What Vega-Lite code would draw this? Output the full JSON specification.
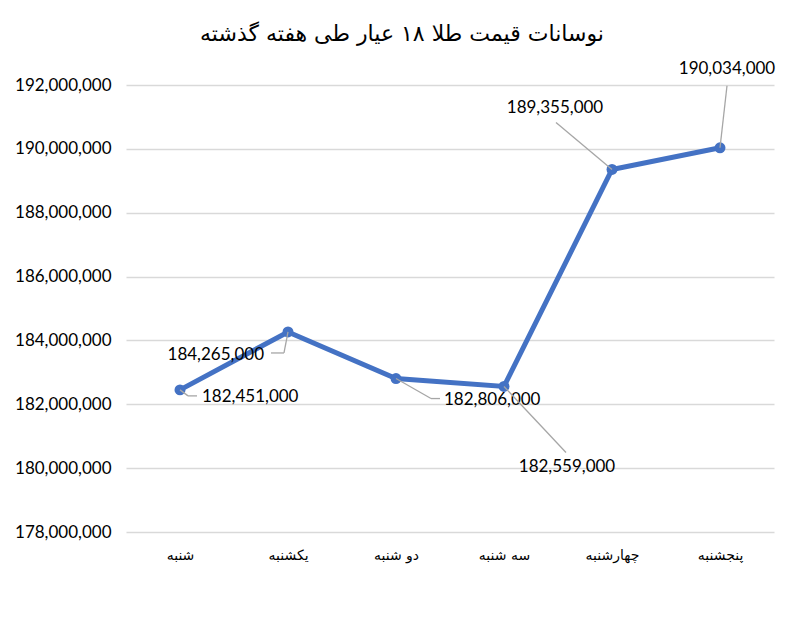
{
  "$schema": "https://vega.github.io/schema/vega-lite/v6.json",
  "autosize": "none",
  "width": 648,
  "height": 447,
  "padding": {"left": 126, "top": 85, "right": 26, "bottom": 104},
  "background": "white",
  "title": {
    "text": "نوسانات قیمت طلا ۱۸ عیار طی هفته گذشته",
    "font": "DejaVu Sans",
    "fontSize": 22,
    "fontWeight": "normal",
    "color": "#000000",
    "anchor": "middle",
    "dx": -48,
    "offset": 14
  },
  "data": {
    "values": [
      {"day": "شنبه", "price": 182451000, "label": "182,451,000"},
      {"day": "یکشنبه", "price": 184265000, "label": "184,265,000"},
      {"day": "دو شنبه", "price": 182806000, "label": "182,806,000"},
      {"day": "سه شنبه", "price": 182559000, "label": "182,559,000"},
      {"day": "چهارشنبه", "price": 189355000, "label": "189,355,000"},
      {"day": "پنجشنبه", "price": 190034000, "label": "190,034,000"}
    ]
  },
  "encoding": {
    "x": {
      "field": "day",
      "type": "nominal",
      "sort": ["شنبه", "یکشنبه", "دو شنبه", "سه شنبه", "چهارشنبه", "پنجشنبه"],
      "scale": {"type": "point", "padding": 0.5},
      "axis": {
        "title": null,
        "labelAngle": 0,
        "ticks": false,
        "domain": false,
        "grid": false,
        "labelFont": "DejaVu Sans",
        "labelFontSize": 14,
        "labelColor": "#000000",
        "labelPadding": 16
      }
    },
    "y": {
      "field": "price",
      "type": "quantitative",
      "scale": {"domain": [178000000, 192000000], "nice": false, "zero": false},
      "axis": {
        "title": null,
        "values": [178000000, 180000000, 182000000, 184000000, 186000000, 188000000, 190000000, 192000000],
        "format": ",d",
        "ticks": false,
        "domain": false,
        "gridColor": "#d9d9d9",
        "gridWidth": 1.5,
        "labelFont": "Lato",
        "labelFontSize": 17,
        "labelColor": "#000000",
        "labelPadding": 15
      }
    }
  },
  "layer": [
    {"mark": {"type": "line", "color": "#4472C4", "strokeWidth": 5}},
    {"mark": {"type": "point", "filled": true, "color": "#4472C4", "size": 120, "opacity": 1}},
    {
      "transform": [{"filter": "datum.day == 'شنبه'"}],
      "layer": [
        {"mark": {"type": "rule", "color": "#a6a6a6", "strokeWidth": 1.3, "x2Offset": 8, "y2Offset": 6}, "encoding": {"x2": {"field": "day"}, "y2": {"field": "price"}}},
        {"mark": {"type": "rule", "color": "#a6a6a6", "strokeWidth": 1.3, "xOffset": 8, "yOffset": 6, "x2Offset": 17, "y2Offset": 6}, "encoding": {"x2": {"field": "day"}, "y2": {"field": "price"}}},
        {"mark": {"type": "text", "font": "Lato", "fontSize": 17, "color": "#000000", "align": "left", "baseline": "middle", "dx": 22, "dy": 7}, "encoding": {"text": {"field": "label"}}}
      ]
    },
    {
      "transform": [{"filter": "datum.day == 'یکشنبه'"}],
      "layer": [
        {"mark": {"type": "rule", "color": "#a6a6a6", "strokeWidth": 1.3, "x2Offset": -4, "y2Offset": 21}, "encoding": {"x2": {"field": "day"}, "y2": {"field": "price"}}},
        {"mark": {"type": "rule", "color": "#a6a6a6", "strokeWidth": 1.3, "xOffset": -4, "yOffset": 21, "x2Offset": -17, "y2Offset": 21}, "encoding": {"x2": {"field": "day"}, "y2": {"field": "price"}}},
        {"mark": {"type": "text", "font": "Lato", "fontSize": 17, "color": "#000000", "align": "right", "baseline": "middle", "dx": -24, "dy": 23}, "encoding": {"text": {"field": "label"}}}
      ]
    },
    {
      "transform": [{"filter": "datum.day == 'دو شنبه'"}],
      "layer": [
        {"mark": {"type": "rule", "color": "#a6a6a6", "strokeWidth": 1.3, "x2Offset": 35, "y2Offset": 20}, "encoding": {"x2": {"field": "day"}, "y2": {"field": "price"}}},
        {"mark": {"type": "rule", "color": "#a6a6a6", "strokeWidth": 1.3, "xOffset": 35, "yOffset": 20, "x2Offset": 44, "y2Offset": 20}, "encoding": {"x2": {"field": "day"}, "y2": {"field": "price"}}},
        {"mark": {"type": "text", "font": "Lato", "fontSize": 17, "color": "#000000", "align": "left", "baseline": "middle", "dx": 48, "dy": 21}, "encoding": {"text": {"field": "label"}}}
      ]
    },
    {
      "transform": [{"filter": "datum.day == 'سه شنبه'"}],
      "layer": [
        {"mark": {"type": "rule", "color": "#a6a6a6", "strokeWidth": 1.3, "x2Offset": 62, "y2Offset": 66}, "encoding": {"x2": {"field": "day"}, "y2": {"field": "price"}}},
        {"mark": {"type": "text", "font": "Lato", "fontSize": 17, "color": "#000000", "align": "center", "baseline": "middle", "dx": 63, "dy": 81}, "encoding": {"text": {"field": "label"}}}
      ]
    },
    {
      "transform": [{"filter": "datum.day == 'چهارشنبه'"}],
      "layer": [
        {"mark": {"type": "rule", "color": "#a6a6a6", "strokeWidth": 1.3, "x2Offset": -56, "y2Offset": -47}, "encoding": {"x2": {"field": "day"}, "y2": {"field": "price"}}},
        {"mark": {"type": "text", "font": "Lato", "fontSize": 17, "color": "#000000", "align": "center", "baseline": "middle", "dx": -57, "dy": -61}, "encoding": {"text": {"field": "label"}}}
      ]
    },
    {
      "transform": [{"filter": "datum.day == 'پنجشنبه'"}],
      "layer": [
        {"mark": {"type": "rule", "color": "#a6a6a6", "strokeWidth": 1.3, "x2Offset": 7, "y2Offset": -62}, "encoding": {"x2": {"field": "day"}, "y2": {"field": "price"}}},
        {"mark": {"type": "text", "font": "Lato", "fontSize": 17, "color": "#000000", "align": "center", "baseline": "middle", "dx": 7, "dy": -79}, "encoding": {"text": {"field": "label"}}}
      ]
    }
  ],
  "config": {"view": {"stroke": null}}
}
